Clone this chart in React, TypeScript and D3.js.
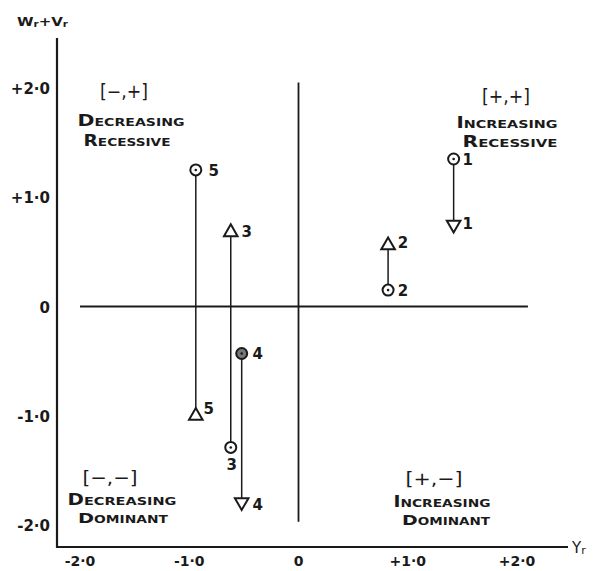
import React from "react";
import * as d3 from "d3";

const xTicks = [-2, -1, 0, 1, 2];
const xTickLabels = ["-2·0", "-1·0", "0", "+1·0", "+2·0"];
const yTicks = [2, 1, 0, -1, -2];
const yTickLabels = ["+2·0", "+1·0", "0", "-1·0", "-2·0"];

const ids = ["1", "2", "3", "4", "5"];
const yrValues = [1.42, 0.82, -0.62, -0.52, -0.94];
const circleValues = [1.35, 0.15, -1.29, -0.43, 1.25];
const triangleValues = [0.75, 0.56, 0.68, -1.79, -1.0];
const triangleDir = ["down", "up", "up", "down", "up"];

const quadrantSigns = ["[−,+]", "[+,+]", "[−,−]", "[+,−]"];
const quadrantLine1 = ["Decreasing", "Increasing", "Decreasing", "Increasing"];
const quadrantLine2 = ["Recessive", "Recessive", "Dominant", "Dominant"];

export default function App() {
  const W = 597, H = 571;
  const x = d3.scaleLinear().domain([-2, 2]).range([80, 517]);
  const y = d3.scaleLinear().domain([-2, 2]).range([525, 88]);
  const ink = "#1a1a1a";
  const font = "'DejaVu Sans', sans-serif";
  const tri = d3.symbol().type(d3.symbolTriangle).size(80)();

  // annotation layout (pixels): [cx, baseline, width, fontSize] for bracket, line1, line2
  const qLayout = [
    [[124, 98, 48, 19], [131, 126, 107, 16], [127, 146, 87, 15]],
    [[506, 103, 48, 19], [507, 128, 101, 15], [510, 147, 95, 15]],
    [[110, 484, 55, 18], [122, 505, 109, 15], [123, 523, 90, 14]],
    [[434, 485, 57, 18], [442, 507, 97, 15], [446, 525, 88, 14]],
  ];

  const labelOff: Record<string, { c: [number, number]; t: [number, number] }> = {
    "1": { c: [14, 6], t: [14, 4] },
    "2": { c: [15, 6], t: [15, 3] },
    "3": { c: [1, 23], t: [16, 5] },
    "4": { c: [16, 6], t: [16, 8] },
    "5": { c: [18, 6], t: [13, -2] },
  };

  return (
    <svg width={W} height={H} style={{ position: "absolute", left: 0, top: 0, background: "#fff" }}>
      {/* axes frame */}
      <line x1={57} y1={38} x2={57} y2={548} stroke={ink} strokeWidth={2.2} />
      <line x1={56} y1={547} x2={568} y2={547} stroke={ink} strokeWidth={2.2} />
      {/* zero lines */}
      <line x1={x(0)} y1={y(2.05)} x2={x(0)} y2={y(-1.97)} stroke={ink} strokeWidth={1.8} />
      <line x1={x(-2)} y1={y(0)} x2={x(2.1)} y2={y(0)} stroke={ink} strokeWidth={1.8} />

      {/* axis titles */}
      <text x={17} y={26} fontFamily={font} fontWeight="bold" fontSize={13} fill={ink} textLength={51} lengthAdjust="spacingAndGlyphs">
        W<tspan fontSize={9} dy={1}>r</tspan><tspan dy={-1}>+V</tspan><tspan fontSize={9} dy={1}>r</tspan>
      </text>
      <text x={572} y={553} fontFamily={font} fontSize={15} fill={ink}>
        Y<tspan fontSize={11} dy={1}>r</tspan>
      </text>

      {/* tick labels */}
      {yTicks.map((v, i) => (
        <text key={"y" + i} x={50} y={y(v) + 6} textAnchor="end" fontFamily={font} fontWeight="bold" fontSize={15} fill={ink}>
          {yTickLabels[i]}
        </text>
      ))}
      {xTicks.map((v, i) => (
        <text key={"x" + i} x={x(v)} y={566} textAnchor="middle" fontFamily={font} fontWeight="bold" fontSize={14} fill={ink}>
          {xTickLabels[i]}
        </text>
      ))}

      {/* quadrant labels */}
      {quadrantSigns.map((s, i) => {
        const L = qLayout[i];
        return (
          <g key={"q" + i} fontFamily={font} fill={ink}>
            <text x={L[0][0] - L[0][2] / 2} y={L[0][1]} fontSize={L[0][3]} textLength={L[0][2]} lengthAdjust="spacingAndGlyphs">{s}</text>
            <text x={L[1][0] - L[1][2] / 2} y={L[1][1]} fontSize={L[1][3]} fontWeight="bold" style={{ fontVariant: "small-caps" }} textLength={L[1][2]} lengthAdjust="spacingAndGlyphs">
              {quadrantLine1[i]}
            </text>
            <text x={L[2][0] - L[2][2] / 2} y={L[2][1]} fontSize={L[2][3]} fontWeight="bold" style={{ fontVariant: "small-caps" }} textLength={L[2][2]} lengthAdjust="spacingAndGlyphs">
              {quadrantLine2[i]}
            </text>
          </g>
        );
      })}

      {/* data */}
      {ids.map((id, i) => {
        const cx = x(yrValues[i]);
        const cy = y(circleValues[i]);
        const ty = y(triangleValues[i]);
        const down = triangleDir[i] === "down";
        const off = labelOff[id];
        return (
          <g key={"p" + id}>
            <line x1={cx} y1={cy} x2={cx} y2={ty} stroke={ink} strokeWidth={1.5} />
            <circle cx={cx} cy={cy} r={5.5} fill={id === "4" ? "#777" : "#fff"} stroke={ink} strokeWidth={2} />
            <circle cx={cx} cy={cy} r={1.3} fill={ink} />
            <path d={tri} transform={`translate(${cx},${ty}) rotate(${down ? 180 : 0})`} fill="#fff" stroke={ink} strokeWidth={2} />
            <text x={cx + off.c[0]} y={cy + off.c[1]} textAnchor="middle" fontFamily={font} fontWeight="bold" fontSize={15} fill={ink}>{id}</text>
            <text x={cx + off.t[0]} y={ty + off.t[1]} textAnchor="middle" fontFamily={font} fontWeight="bold" fontSize={15} fill={ink}>{id}</text>
          </g>
        );
      })}
    </svg>
  );
}
